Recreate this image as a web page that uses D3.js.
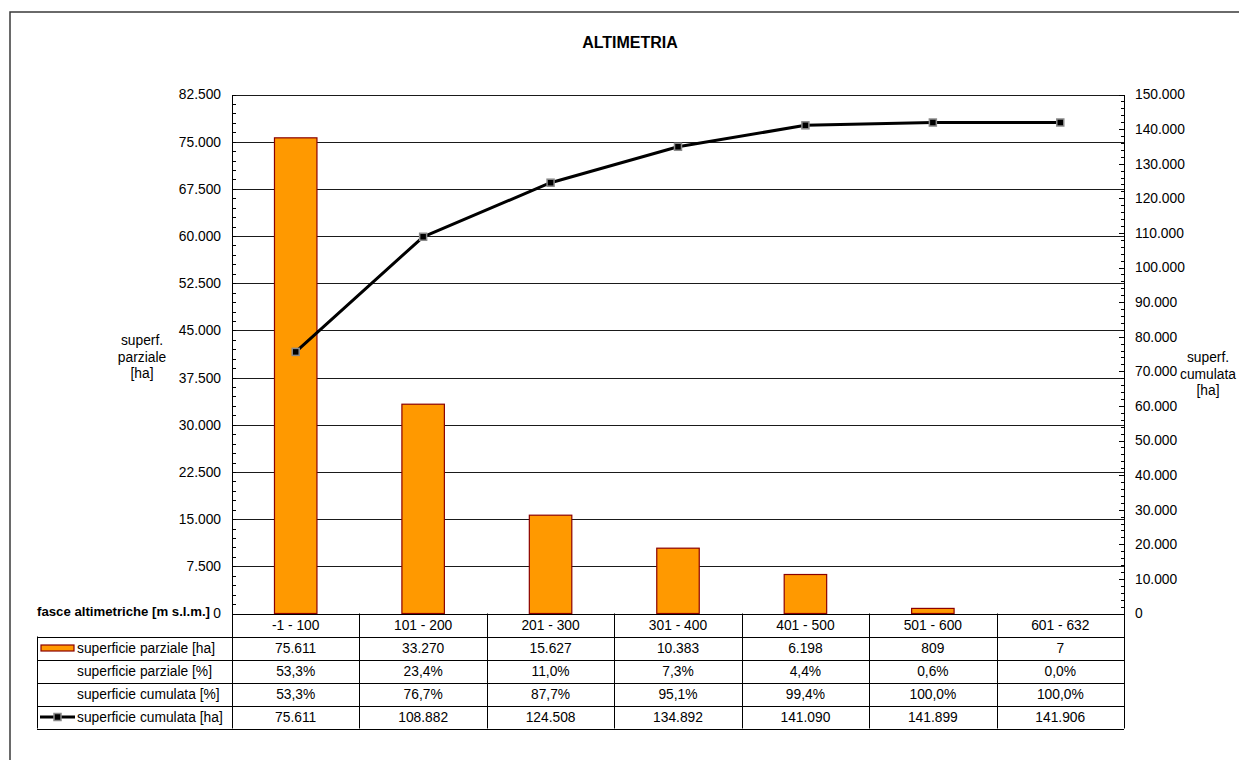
<!DOCTYPE html>
<html><head><meta charset="utf-8">
<script src="https://cdn.jsdelivr.net/npm/d3@7"></script>
<style>
html,body{margin:0;padding:0;background:#fff;overflow:hidden}
svg{display:block;font-family:"Liberation Sans",Arial,sans-serif}
</style></head>
<body>
<svg id="chart" width="1239" height="760"></svg>
<script>
// ---- data ----
const categories = ["-1 - 100","101 - 200","201 - 300","301 - 400","401 - 500","501 - 600","601 - 632"];
const superficieParzialeHa = [75611, 33270, 15627, 10383, 6198, 809, 7];
const superficieParzialePct = [53.3, 23.4, 11.0, 7.3, 4.4, 0.6, 0.0];
const superficieCumulataPct = [53.3, 76.7, 87.7, 95.1, 99.4, 100.0, 100.0];
const superficieCumulataHa = [75611, 108882, 124508, 134892, 141090, 141899, 141906];
const rowLabels = ["superficie parziale [ha]","superficie parziale [%]","superficie cumulata [%]","superficie cumulata [ha]"];
const leftTicks = [0,7500,15000,22500,30000,37500,45000,52500,60000,67500,75000,82500];
const rightTicks = [0,10000,20000,30000,40000,50000,60000,70000,80000,90000,100000,110000,120000,130000,140000,150000];

// ---- layout ----
const L = 232, R = 1124, T = 94.5, B = 613.5;
const rowH = 23;
const fs = 13.8;

const loc = d3.formatLocale({decimal:",", thousands:".", grouping:[3], currency:["","€"]});
const fmtN = loc.format(",d");
const fmtP = v => loc.format(",.1f")(v) + "%";
const fmtAx = v => v === 0 ? "0" : fmtN(v);

const svg = d3.select("#chart");

// outer border
svg.append("rect").attr("x",10).attr("y",12).attr("width",1260).attr("height",800)
  .attr("fill","#fff").attr("stroke","#3a3a3a").attr("stroke-width",1.5);

// title
svg.append("text").attr("x",630).attr("y",48).attr("text-anchor","middle")
  .attr("font-size",16).attr("font-weight","bold").text("ALTIMETRIA");

const x = d3.scaleBand().domain(categories).range([L,R]).padding(0);
const yL = d3.scaleLinear().domain([0,82500]).range([B,T]);
const yR = d3.scaleLinear().domain([0,150000]).range([B,T]);

// gridlines
svg.append("g").selectAll("line").data(leftTicks.filter(d=>d>0)).join("line")
  .attr("x1",L).attr("x2",R).attr("y1",d=>Math.round(yL(d))+0.5).attr("y2",d=>Math.round(yL(d))+0.5)
  .attr("stroke","#1a1a1a").attr("stroke-width",1);

// bars
const bw = x.bandwidth()/3;
svg.append("g").selectAll("rect").data(superficieParzialeHa).join("rect")
  .attr("x",(d,i)=>x(categories[i])+bw)
  .attr("width",bw)
  .attr("y",d=>yL(d))
  .attr("height",d=>B-yL(d))
  .attr("fill","#FF9900").attr("stroke","#8B0000")
  .attr("stroke-width",d=>(B-yL(d))<1?0:1.2);

// cumulative line
const line = d3.line().x((d,i)=>x(categories[i])+x.bandwidth()/2).y(d=>yR(d));
svg.append("path").datum(superficieCumulataHa).attr("d",line)
  .attr("fill","none").attr("stroke","#000").attr("stroke-width",3).attr("stroke-linejoin","round");
svg.append("g").selectAll("rect").data(superficieCumulataHa).join("rect")
  .attr("x",(d,i)=>x(categories[i])+x.bandwidth()/2-3.5)
  .attr("y",d=>yR(d)-3.5).attr("width",7).attr("height",7)
  .attr("fill","#000").attr("stroke","#8a8a8a").attr("stroke-width",1.5);

// left axis
const axL = svg.append("g").attr("transform",`translate(${L},0)`)
  .call(d3.axisLeft(yL).tickValues(leftTicks).tickFormat(fmtAx).tickSize(0).tickPadding(11));
axL.select(".domain").attr("stroke","#000");
axL.selectAll("text").attr("font-size",fs).attr("fill","#000").attr("font-family","Liberation Sans, Arial, sans-serif");
const minorL = d3.range(0,82501,1500);
svg.append("g").selectAll("line").data(minorL).join("line")
  .attr("x1",L).attr("x2",L+4).attr("y1",d=>Math.round(yL(d))+0.5).attr("y2",d=>Math.round(yL(d))+0.5)
  .attr("stroke","#000");

// right axis
const axR = svg.append("g").attr("transform",`translate(${R},0)`)
  .call(d3.axisRight(yR).tickValues(rightTicks).tickFormat(fmtAx).tickSize(0).tickPadding(11));
axR.select(".domain").attr("stroke","#000");
axR.selectAll("text").attr("font-size",fs).attr("fill","#000").attr("font-family","Liberation Sans, Arial, sans-serif");
const minorR = d3.range(0,150001,2000);
svg.append("g").selectAll("line").data(minorR).join("line")
  .attr("x1",d=>d%10000===0?R-5:R-3).attr("x2",d=>d%10000===0?R+1:R)
  .attr("y1",d=>Math.round(yR(d))+0.5).attr("y2",d=>Math.round(yR(d))+0.5)
  .attr("stroke","#000");

// axis titles
const tl = svg.append("text").attr("text-anchor","middle").attr("font-size",fs);
["superf.","parziale","[ha]"].forEach((t,i)=>tl.append("tspan").attr("x",142).attr("y",345+i*16.5).text(t));
const tr = svg.append("text").attr("text-anchor","middle").attr("font-size",fs);
["superf.","cumulata","[ha]"].forEach((t,i)=>tr.append("tspan").attr("x",1208).attr("y",362+i*16.5).text(t));

// x label
svg.append("text").attr("x",37).attr("y",616).attr("font-size",13.2).attr("font-weight","bold")
  .text("fasce altimetriche [m s.l.m.]");

// data table
const tb = svg.append("g");
const LBL = 37;
const rows = [superficieParzialeHa.map(fmtN), superficieParzialePct.map(fmtP), superficieCumulataPct.map(fmtP), superficieCumulataHa.map(fmtN)];
const hLines = [0,1,2,3,4,5];
tb.selectAll("line.h").data(hLines).join("line").attr("class","h")
  .attr("x1",d=>d===0?L:LBL).attr("x2",R)
  .attr("y1",d=>Math.round(B+d*rowH)+0.5).attr("y2",d=>Math.round(B+d*rowH)+0.5)
  .attr("stroke","#000");
const vx = categories.map(c=>x(c)).concat([R]);
tb.selectAll("line.v").data(vx).join("line").attr("class","v")
  .attr("x1",d=>Math.round(d)+0.5).attr("x2",d=>Math.round(d)+0.5)
  .attr("y1",B).attr("y2",B+5*rowH).attr("stroke","#000");
tb.append("line").attr("x1",LBL+0.5).attr("x2",LBL+0.5).attr("y1",B+rowH).attr("y2",B+5*rowH).attr("stroke","#000");
tb.selectAll("text.hd").data(categories).join("text").attr("class","hd")
  .attr("x",d=>x(d)+x.bandwidth()/2).attr("y",B+rowH/2+5).attr("text-anchor","middle")
  .attr("font-size",fs).text(d=>d);
rows.forEach((r,ri)=>{
  const cy = B+(ri+1)*rowH+rowH/2;
  tb.append("g").selectAll("text").data(r).join("text")
    .attr("x",(d,i)=>x(categories[i])+x.bandwidth()/2).attr("y",cy+5)
    .attr("text-anchor","middle").attr("font-size",fs).text(d=>d);
  tb.append("text").attr("x",77).attr("y",cy+5).attr("font-size",fs).text(rowLabels[ri]);
});
// legend keys
const r1 = B+rowH+rowH/2;
tb.append("rect").attr("x",41).attr("y",r1-3).attr("width",33).attr("height",6)
  .attr("fill","#FF9900").attr("stroke","#8B0000").attr("stroke-width",1.2);
const r4 = B+4*rowH+rowH/2;
tb.append("line").attr("x1",40).attr("x2",75).attr("y1",r4).attr("y2",r4).attr("stroke","#000").attr("stroke-width",3);
tb.append("rect").attr("x",54).attr("y",r4-3.5).attr("width",7).attr("height",7)
  .attr("fill","#000").attr("stroke","#8a8a8a").attr("stroke-width",1.5);
</script>
</body></html>
